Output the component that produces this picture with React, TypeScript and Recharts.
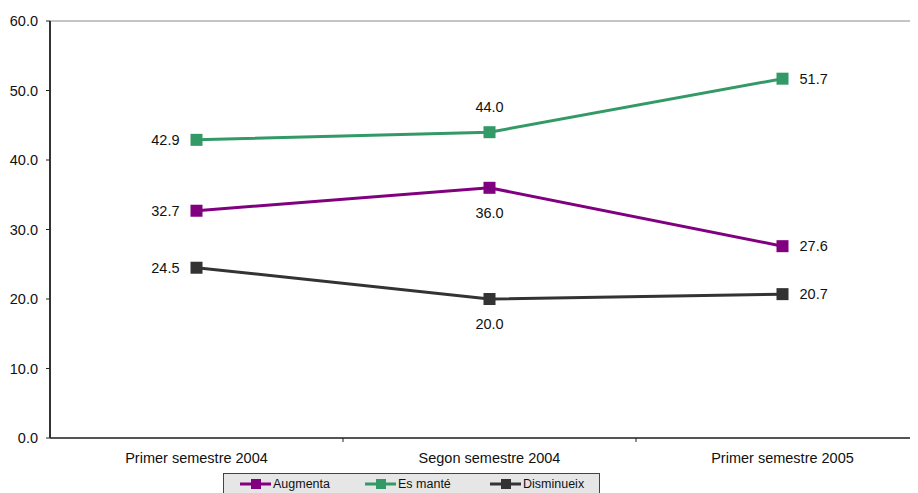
import { LineChart, Line, XAxis, YAxis, ReferenceLine, LabelList } from 'recharts';

const categories = ['Primer semestre 2004', 'Segon semestre 2004', 'Primer semestre 2005'];
const augmenta = [32.7, 36.0, 27.6];
const esMante = [42.9, 44.0, 51.7];
const disminueix = [24.5, 20.0, 20.7];
const yTicks = [0, 10, 20, 30, 40, 50, 60];

const series = [
  { key: 'augmenta', name: 'Augmenta', values: augmenta, color: '#800080', middle: 'below' },
  { key: 'esMante', name: 'Es manté', values: esMante, color: '#339966', middle: 'above' },
  { key: 'disminueix', name: 'Disminueix', values: disminueix, color: '#333333', middle: 'below' },
];

const FONT = '"Liberation Sans", Arial, sans-serif';
const FS = 14.5;

// x is the category centre on a 0..n numeric axis so that tick marks sit between categories
const chartData = categories.map((name, i) => {
  const row: any = { x: i + 0.5, name };
  series.forEach(s => { row[s.key] = s.values[i]; });
  return row;
});

const xTicks = [0, 0.5, 1, 1.5, 2, 2.5, 3];

const XTick = (props: any) => {
  const { x, y, payload } = props;
  const v = payload.value;
  if (Number.isInteger(v)) {
    if (v === 0) return null;
    return <line x1={x} x2={x} y1={y} y2={y + 4} stroke="#222" strokeWidth={1} />;
  }
  const label = categories[Math.floor(v)];
  return (
    <text x={x} y={y + 20} textAnchor="middle" dominantBaseline="central" fontSize={FS} fill="#111" fontFamily={FONT}>
      {label}
    </text>
  );
};

const SquareDot = (color: string) => (props: any) => {
  const { cx, cy, index } = props;
  return <rect key={index} x={cx - 6} y={cy - 6} width={12} height={12} fill={color} />;
};

const makeLabel = (middle: string) => (props: any) => {
  const { x, y, value, index } = props;
  let tx = x;
  let ty = y;
  let anchor: 'start' | 'middle' | 'end' = 'middle';
  if (index === 0) { tx = x - 17; anchor = 'end'; }
  else if (index === categories.length - 1) { tx = x + 17; anchor = 'start'; }
  else { ty = middle === 'above' ? y - 25 : y + 25; }
  return (
    <text key={index} x={tx} y={ty} textAnchor={anchor} dominantBaseline="central" fontSize={FS} fill="#111" fontFamily={FONT}>
      {Number(value).toFixed(1)}
    </text>
  );
};

export default function App() {
  return (
    <div style={{ position: 'relative', width: 910, height: 485, overflow: 'hidden', fontFamily: FONT }}>
      <LineChart width={930} height={485} data={chartData} margin={{ top: 13, right: 9, left: 0, bottom: 25 }}>
        <ReferenceLine y={60} stroke="#8a8a8a" strokeWidth={1} />
        <XAxis
          dataKey="x"
          type="number"
          domain={[0, 3]}
          ticks={xTicks}
          interval={0}
          tick={<XTick />}
          tickLine={false}
          tickSize={0}
          tickMargin={0}
          height={30}
          axisLine={{ stroke: '#555', strokeWidth: 2 }}
        />
        <YAxis
          domain={[0, 60]}
          ticks={yTicks}
          width={42}
          tickSize={4}
          tickMargin={8}
          tickFormatter={(v: number) => v.toFixed(1)}
          tick={{ fontSize: FS, fill: '#111', fontFamily: FONT }}
          tickLine={{ stroke: '#222' }}
          axisLine={{ stroke: '#333', strokeWidth: 2 }}
        />
        {series.map(s => (
          <Line
            key={s.key}
            dataKey={s.key}
            name={s.name}
            stroke={s.color}
            strokeWidth={3}
            dot={SquareDot(s.color)}
            activeDot={false}
            isAnimationActive={false}
          >
            <LabelList dataKey={s.key} content={makeLabel(s.middle)} />
          </Line>
        ))}
      </LineChart>
      <div
        style={{
          position: 'absolute',
          left: 215,
          top: 465,
          width: 375,
          height: 24,
          background: '#e6e6e6',
          border: '1px solid #444',
          fontSize: 12.5,
          color: '#111',
        }}
      >
        {series.map((s, i) => (
          <div key={s.key} style={{ position: 'absolute', left: [16, 141, 266][i], top: 3, display: 'flex', alignItems: 'center' }}>
            <svg width={31} height={12}>
              <line x1={0} x2={31} y1={6} y2={6} stroke={s.color} strokeWidth={3} />
              <rect x={11} y={1} width={10} height={10} fill={s.color} />
            </svg>
            <span style={{ marginLeft: 2 }}>{s.name}</span>
          </div>
        ))}
      </div>
    </div>
  );
}
